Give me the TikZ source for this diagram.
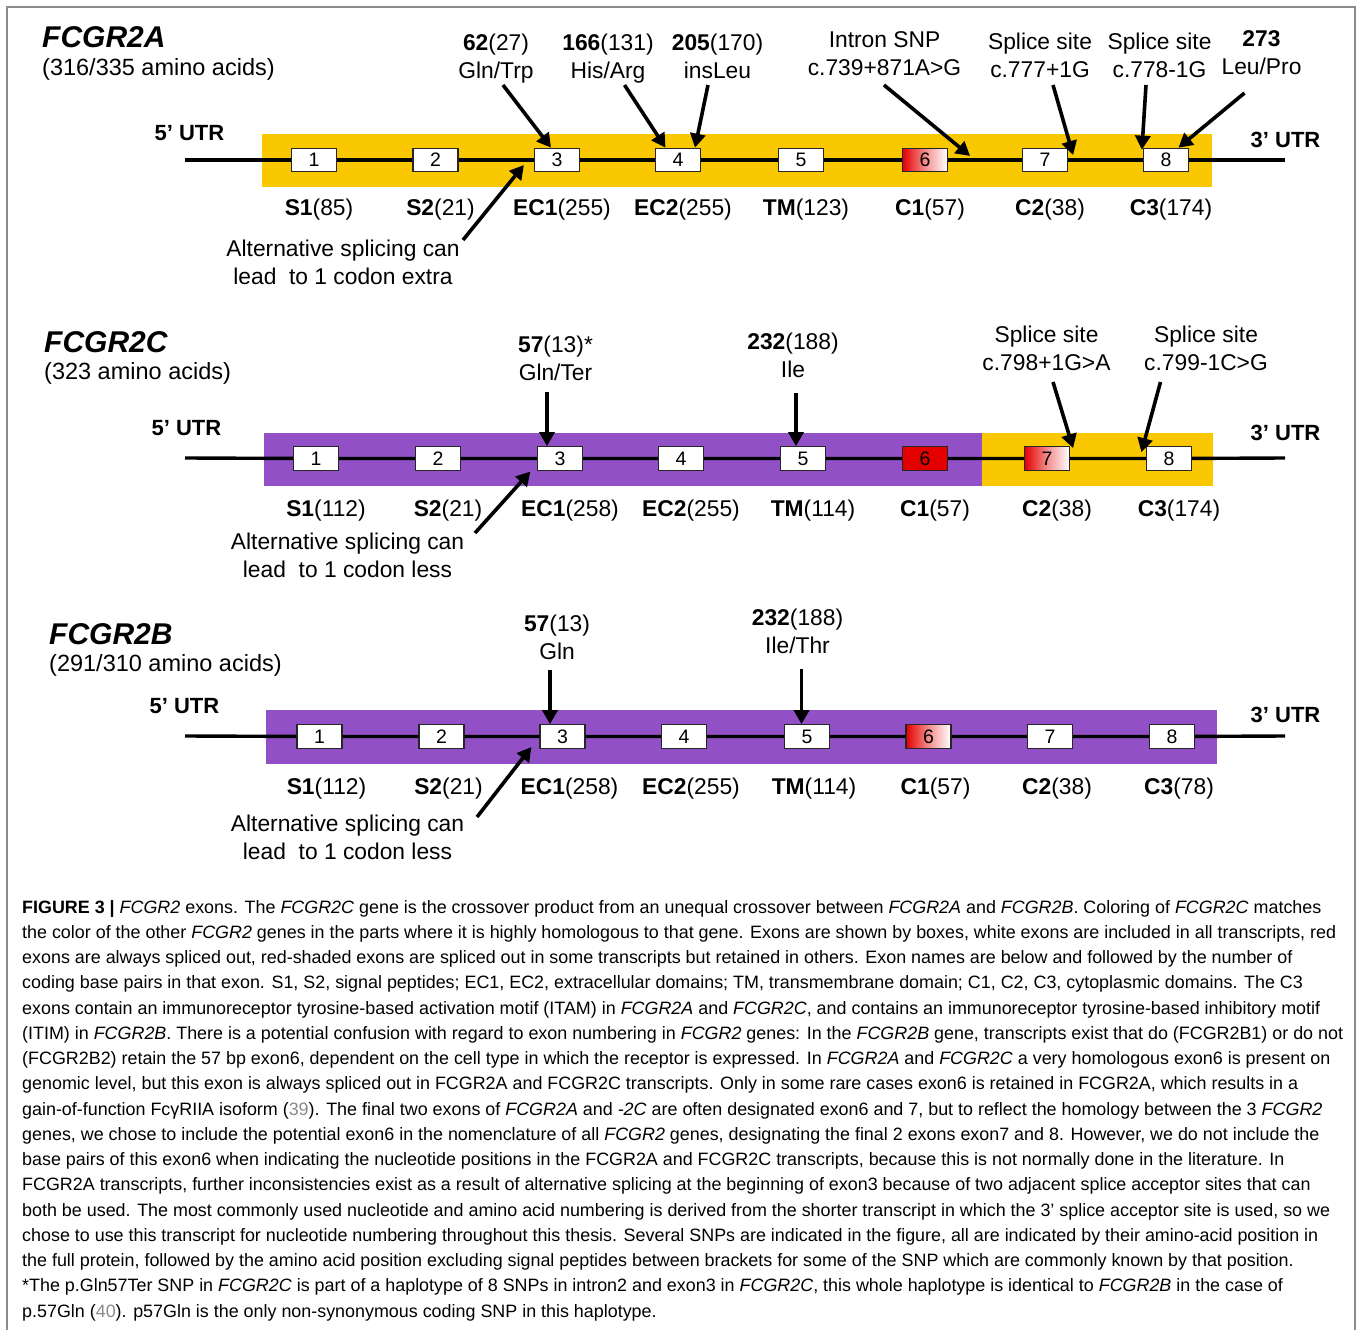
\documentclass[tikz,border=0pt]{standalone}
\usepackage{fontspec}
\setmainfont{Liberation Sans}
\usetikzlibrary{arrows.meta,positioning}
\definecolor{ExonGold}{HTML}{FAC800}
\definecolor{ExonPurple}{HTML}{9150C6}
\definecolor{SplicedRed}{HTML}{E50000}
\definecolor{FrameGray}{HTML}{8C8C8C}
\definecolor{CiteGray}{HTML}{8A8A8A}

\begin{document}
\begin{tikzpicture}[
  x=1pt, y=-1pt,
  exon/.style={draw=black!85, line width=1.2pt, fill=white, minimum width=45pt,
    minimum height=23.5pt, inner sep=0pt, font=\fontsize{19.5}{22}\selectfont},
  redexon/.style={exon, fill=SplicedRed},
  shadedexon/.style={exon, left color=SplicedRed, right color=white, middle color=SplicedRed!45},
  exname/.style={inner sep=0pt, text height=17pt, text depth=5pt, font=\fontsize{22.8}{27}\selectfont},
  snplabel/.style={align=center, inner sep=0pt, anchor=base, font=\fontsize{22.8}{28}\selectfont},
  utr/.style={inner sep=0pt, font=\bfseries\fontsize{22}{26}\selectfont},
  gene/.style={inner sep=0pt, anchor=base west, font=\bfseries\itshape\fontsize{30}{34}\selectfont},
  genesub/.style={inner sep=0pt, anchor=base west, font=\fontsize{23.5}{27}\selectfont},
  intron/.style={line width=3.4pt},
  snp/.style={-{Triangle[length=14pt,width=15pt]}, line width=3.6pt}
]
\useasboundingbox (0,0) rectangle (1360,1330);
\draw[FrameGray, line width=1.8pt] (7,1330) -- (7,7) -- (1355,7) -- (1355,1330);

% FCGR2A
\node[gene] (geneA) at (42,48) {FCGR2A};
\node[genesub] (subA) at ([yshift=-27pt]geneA.base west) {(316/335 amino acids)};
\fill[ExonGold] (262,134) rectangle (1212,187);
\coordinate (utrA5) at (185,160);
\coordinate (utrA3) at (1285,160);
\node[utr] (lblA5) at (189.5,133) {5’ UTR};
\node[utr] (lblA3) at (1285.5,140) {3’ UTR};
\node[exon] (a1) at (314,160) {1};
\node[exon] (a2) at (435.5,160) {2};
\node[exon] (a3) at (557,160) {3};
\node[exon] (a4) at (678,160) {4};
\node[exon] (a5) at (801,160) {5};
\node[shadedexon] (a6) at (925,160) {6};
\node[exon] (a7) at (1045,160) {7};
\node[exon] (a8) at (1166,160) {8};
\draw[intron] (utrA5) -- (a1) -- (a2) -- (a3) -- (a4) -- (a5) -- (a6) -- (a7) -- (a8) -- (utrA3);
\node[exname, below=26pt of a1, xshift=5pt] (nA1) {\textbf{S1}(85)};
\node[exname, below=26pt of a2, xshift=5pt] (nA2) {\textbf{S2}(21)};
\node[exname, below=26pt of a3, xshift=5pt] (nA3) {\textbf{EC1}(255)};
\node[exname, below=26pt of a4, xshift=5pt] (nA4) {\textbf{EC2}(255)};
\node[exname, below=26pt of a5, xshift=5pt] (nA5) {\textbf{TM}(123)};
\node[exname, below=26pt of a6, xshift=5pt] (nA6) {\textbf{C1}(57)};
\node[exname, below=26pt of a7, xshift=5pt] (nA7) {\textbf{C2}(38)};
\node[exname, below=26pt of a8, xshift=5pt] (nA8) {\textbf{C3}(174)};
\node[snplabel] (sA62) at (496,78.5) {\textbf{62}(27)\\Gln/Trp};
\node[snplabel] (sA166) at (608,78.5) {\textbf{166}(131)\\His/Arg};
\node[snplabel] (sA205) at (717.5,78.5) {\textbf{205}(170)\\insLeu};
\node[snplabel] (sAintr) at (884.5,75.5) {Intron SNP\\c.739+871A>G};
\node[snplabel] (sAss1) at (1040,77.5) {Splice site\\c.777+1G};
\node[snplabel] (sAss2) at (1159.5,77.5) {Splice site\\c.778-1G};
\node[snplabel] (sA273) at (1261.5,74.5) {\textbf{273}\\Leu/Pro};
\node[snplabel] (sAalt) at (343,284.5) {Alternative splicing can\\lead\ \ to 1 codon extra};
\draw[snp] ([shift={(7,6.5)}]sA62.base) -- ([xshift=-6pt]a3.north);
\draw[snp] ([shift={(16.5,6.5)}]sA166.base) -- ([xshift=-12.5pt]a4.north);
\draw[snp] ([shift={(-9.5,6.5)}]sA205.base) -- ([xshift=17pt]a4.north);
\draw[snp] ([shift={(-0.5,9.5)}]sAintr.base) -- ([shift={(22,-4)}]a6.east);
\draw[snp] ([shift={(13,7.5)}]sAss1.base) -- ([shift={(5,-5)}]a7.east);
\draw[snp] ([shift={(-13.5,7.5)}]sAss2.base) -- ([shift={(-1,2)}]a8.north west);
\draw[snp] ([shift={(-17,18.5)}]sA273.base) -- ([xshift=12.5pt]a8.north);
\draw[snp] ([shift={(120,-44.5)}]sAalt.base) -- ([shift={(-10,5)}]a3.west);

% FCGR2C
\node[gene] (geneC) at (44,352) {FCGR2C};
\node[genesub] (subC) at ([yshift=-27pt]geneC.base west) {(323 amino acids)};
\fill[ExonPurple] (263.5,432.5) rectangle (981.5,485.5);
\fill[ExonGold] (981.5,432.5) rectangle (1212.5,485.5);
\coordinate (utrC5) at (185,458);
\coordinate (utrC3) at (1285,458);
\node[utr] (lblC5) at (186.5,428) {5’ UTR};
\node[utr] (lblC3) at (1285.5,433) {3’ UTR};
\node[exon] (c1) at (316,458.5) {1};
\node[exon] (c2) at (438,458.5) {2};
\node[exon] (c3) at (560,458.5) {3};
\node[exon] (c4) at (681,458.5) {4};
\node[exon] (c5) at (803,458.5) {5};
\node[redexon] (c6) at (925,458.5) {6};
\node[shadedexon] (c7) at (1047,458.5) {7};
\node[exon] (c8) at (1169,458.5) {8};
\draw[intron] (utrC5) -- (c1) -- (c2) -- (c3) -- (c4) -- (c5) -- (c6) -- (c7) -- (c8) -- (utrC3);
\node[exname, below=28.5pt of c1, xshift=10pt] (nC1) {\textbf{S1}(112)};
\node[exname, below=28.5pt of c2, xshift=10pt] (nC2) {\textbf{S2}(21)};
\node[exname, below=28.5pt of c3, xshift=10pt] (nC3) {\textbf{EC1}(258)};
\node[exname, below=28.5pt of c4, xshift=10pt] (nC4) {\textbf{EC2}(255)};
\node[exname, below=28.5pt of c5, xshift=10pt] (nC5) {\textbf{TM}(114)};
\node[exname, below=28.5pt of c6, xshift=10pt] (nC6) {\textbf{C1}(57)};
\node[exname, below=28.5pt of c7, xshift=10pt] (nC7) {\textbf{C2}(38)};
\node[exname, below=28.5pt of c8, xshift=10pt] (nC8) {\textbf{C3}(174)};
\node[snplabel] (sC57) at (555.5,380.5) {\textbf{57}(13)*\\Gln/Ter};
\node[snplabel] (sC232) at (793,377.5) {\textbf{232}(188)\\Ile};
\node[snplabel] (sCss1) at (1046.5,370.5) {Splice site\\c.798+1G>A};
\node[snplabel] (sCss2) at (1206,370.5) {Splice site\\c.799-1C>G};
\node[snplabel] (sCalt) at (347.5,577.5) {Alternative splicing can\\lead\ \ to 1 codon less};
\draw[snp] ([shift={(-8.5,11.5)}]sC57.base) -- ([xshift=-13pt]c3.north);
\draw[snp] ([shift={(3,15.5)}]sC232.base) -- ([xshift=-7pt]c5.north);
\draw[snp] ([shift={(6.5,11.5)}]sCss1.base) -- ([shift={(3,2)}]c7.north east);
\draw[snp] ([shift={(-45.5,11.5)}]sCss2.base) -- ([shift={(-4.5,6)}]c8.north west);
\draw[snp] ([shift={(127.5,-44.5)}]sCalt.base) -- ([shift={(-6.5,13)}]c3.west);

% FCGR2B
\node[gene] (geneB) at (49,644) {FCGR2B};
\node[genesub] (subB) at ([yshift=-27.5pt]geneB.base west) {(291/310 amino acids)};
\fill[ExonPurple] (265.5,710) rectangle (1217,763.5);
\coordinate (utrB5) at (185,736);
\coordinate (utrB3) at (1285,736);
\node[utr] (lblB5) at (184.5,706) {5’ UTR};
\node[utr] (lblB3) at (1285.5,715) {3’ UTR};
\node[exon] (b1) at (319.5,736.5) {1};
\node[exon] (b2) at (441.5,736.5) {2};
\node[exon] (b3) at (562.5,736.5) {3};
\node[exon] (b4) at (684,736.5) {4};
\node[exon] (b5) at (807,736.5) {5};
\node[shadedexon] (b6) at (928.5,736.5) {6};
\node[exon] (b7) at (1050,736.5) {7};
\node[exon] (b8) at (1172,736.5) {8};
\draw[intron] (utrB5) -- (b1) -- (b2) -- (b3) -- (b4) -- (b5) -- (b6) -- (b7) -- (b8) -- (utrB3);
\node[exname, below=28.5pt of b1, xshift=7pt] (nB1) {\textbf{S1}(112)};
\node[exname, below=28.5pt of b2, xshift=7pt] (nB2) {\textbf{S2}(21)};
\node[exname, below=28.5pt of b3, xshift=7pt] (nB3) {\textbf{EC1}(258)};
\node[exname, below=28.5pt of b4, xshift=7pt] (nB4) {\textbf{EC2}(255)};
\node[exname, below=28.5pt of b5, xshift=7pt] (nB5) {\textbf{TM}(114)};
\node[exname, below=28.5pt of b6, xshift=7pt] (nB6) {\textbf{C1}(57)};
\node[exname, below=28.5pt of b7, xshift=7pt] (nB7) {\textbf{C2}(38)};
\node[exname, below=28.5pt of b8, xshift=7pt] (nB8) {\textbf{C3}(78)};
\node[snplabel] (sB57) at (557,659.5) {\textbf{57}(13)\\Gln};
\node[snplabel] (sB232) at (797.5,653.5) {\textbf{232}(188)\\Ile/Thr};
\node[snplabel] (sBalt) at (347.5,859.5) {Alternative splicing can\\lead\ \ to 1 codon less};
\draw[snp] ([shift={(-7,10.5)}]sB57.base) -- ([xshift=-12.5pt]b3.north);
\draw[snp] ([shift={(4,15.5)}]sB232.base) -- ([xshift=-5.5pt]b5.north);
\draw[snp] ([shift={(129.5,-42.5)}]sBalt.base) -- ([shift={(-8,10.5)}]b3.west);

% caption
\node[anchor=north west, inner sep=0pt, align=left, font=\fontsize{17.9}{25.25}\selectfont] (caption) at (22,900) {%
\textbf{FIGURE 3 |} \textit{FCGR2} exons. The \textit{FCGR2C} gene is the crossover product from an unequal crossover between \textit{FCGR2A} and \textit{FCGR2B}. Coloring of \textit{FCGR2C} matches\\
the color of the other \textit{FCGR2} genes in the parts where it is highly homologous to that gene. Exons are shown by boxes, white exons are included in all transcripts, red\\
exons are always spliced out, red-shaded exons are spliced out in some transcripts but retained in others. Exon names are below and followed by the number of\\
coding base pairs in that exon. S1, S2, signal peptides; EC1, EC2, extracellular domains; TM, transmembrane domain; C1, C2, C3, cytoplasmic domains. The C3\\
exons contain an immunoreceptor tyrosine-based activation motif (ITAM) in \textit{FCGR2A} and \textit{FCGR2C}, and contains an immunoreceptor tyrosine-based inhibitory motif\\
(ITIM) in \textit{FCGR2B}. There is a potential confusion with regard to exon numbering in \textit{FCGR2} genes: In the \textit{FCGR2B} gene, transcripts exist that do (FCGR2B1) or do not\\
(FCGR2B2) retain the 57 bp exon6, dependent on the cell type in which the receptor is expressed. In \textit{FCGR2A} and \textit{FCGR2C} a very homologous exon6 is present on\\
genomic level, but this exon is always spliced out in FCGR2A and FCGR2C transcripts. Only in some rare cases exon6 is retained in FCGR2A, which results in a\\
gain-of-function FcγRIIA isoform ({\color{CiteGray}39}). The final two exons of \textit{FCGR2A} and \textit{-2C} are often designated exon6 and 7, but to reflect the homology between the 3 \textit{FCGR2}\\
genes, we chose to include the potential exon6 in the nomenclature of all \textit{FCGR2} genes, designating the final 2 exons exon7 and 8. However, we do not include the\\
base pairs of this exon6 when indicating the nucleotide positions in the FCGR2A and FCGR2C transcripts, because this is not normally done in the literature. In\\
FCGR2A transcripts, further inconsistencies exist as a result of alternative splicing at the beginning of exon3 because of two adjacent splice acceptor sites that can\\
both be used. The most commonly used nucleotide and amino acid numbering is derived from the shorter transcript in which the 3’ splice acceptor site is used, so we\\
chose to use this transcript for nucleotide numbering throughout this thesis. Several SNPs are indicated in the figure, all are indicated by their amino-acid position in\\
the full protein, followed by the amino acid position excluding signal peptides between brackets for some of the SNP which are commonly known by that position.\\
*The p.Gln57Ter SNP in \textit{FCGR2C} is part of a haplotype of 8 SNPs in intron2 and exon3 in \textit{FCGR2C}, this whole haplotype is identical to \textit{FCGR2B} in the case of\\
p.57Gln ({\color{CiteGray}40}). p57Gln is the only non-synonymous coding SNP in this haplotype.};
\end{tikzpicture}
\end{document}
